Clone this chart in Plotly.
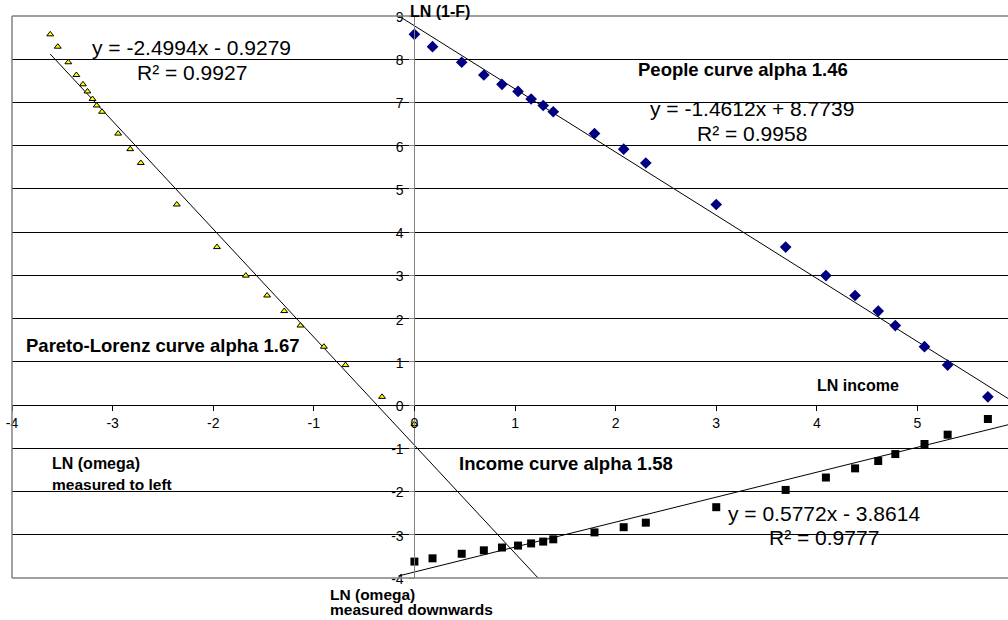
import plotly.graph_objects as go

# Shared data (natural logs)
ln_income = [0.00, 0.18, 0.47, 0.69, 0.87, 1.03, 1.16, 1.28, 1.38, 1.79, 2.08,
             2.30, 3.00, 3.69, 4.09, 4.38, 4.61, 4.78, 5.07, 5.30, 5.70]
ln_1mF = [8.575, 8.29, 7.93, 7.635, 7.42, 7.255, 7.08, 6.93, 6.785, 6.28, 5.92,
          5.60, 4.64, 3.655, 2.995, 2.535, 2.175, 1.84, 1.35, 0.925, 0.19]
ln_omega = [-3.62, -3.545, -3.44, -3.36, -3.295, -3.25, -3.20, -3.158, -3.105,
            -2.945, -2.825, -2.72, -2.362, -1.963, -1.676, -1.464, -1.294,
            -1.133, -0.90, -0.685, -0.322]
extra_pareto_x = [0.0]
extra_pareto_y = [-0.44]

# Trendlines (slope, intercept, x span drawn)
people_fit = (-1.4612, 8.7739)
people_span = [-0.2, 6.0]
pareto_fit = (-2.4994, -0.9279)
pareto_span = [-3.62, 1.4]
income_fit = (0.5772, -3.8614)
income_span = [-0.16, 6.0]

x_ticks = [-4, -3, -2, -1, 0, 1, 2, 3, 4, 5]
y_ticks = list(range(-4, 10))

FONT = "Liberation Sans, Arial, sans-serif"

fig = go.Figure()

def trend(fit, span):
    m, b = fit
    return span, [m * x + b for x in span]

for fit, span in [(pareto_fit, pareto_span), (people_fit, people_span), (income_fit, income_span)]:
    tx, ty = trend(fit, span)
    fig.add_trace(go.Scatter(x=tx, y=ty, mode="lines",
                             line=dict(color="black", width=1), hoverinfo="skip"))

fig.add_trace(go.Scatter(x=ln_income, y=ln_1mF, mode="markers",
                         marker=dict(symbol="diamond", size=9, color="#000080")))
fig.add_trace(go.Scatter(x=ln_income, y=ln_omega, mode="markers",
                         marker=dict(symbol="square", size=8, color="black")))
fig.add_trace(go.Scatter(x=ln_omega + extra_pareto_x, y=ln_1mF + extra_pareto_y, mode="markers",
                         marker=dict(symbol="triangle-up", size=6, color="#FFFF00",
                                     line=dict(color="black", width=1))))

xmin, xmax = -4, 5.9
ymin, ymax = -4, 9

fig.update_layout(
    width=1008, height=620,
    margin=dict(l=12, r=0, t=16, b=42),
    paper_bgcolor="white", plot_bgcolor="white",
    showlegend=False,
    font=dict(family=FONT, color="black", size=13),
    xaxis=dict(range=[xmin, xmax], tickvals=x_ticks, ticktext=[str(v) for v in x_ticks],
               showgrid=False, zeroline=False,
               anchor="free", position=(0 - ymin) / (ymax - ymin),
               showline=True, linecolor="black", linewidth=1,
               ticks="outside", ticklen=5, tickcolor="black",
               tickfont=dict(size=14, family=FONT)),
    yaxis=dict(range=[ymin, ymax], tickvals=y_ticks, ticktext=[str(v) for v in y_ticks],
               showgrid=True, gridcolor="black",
               gridwidth=1, zeroline=False,
               anchor="free", position=(0 - xmin) / (xmax - xmin),
               showline=True, linecolor="#808080", linewidth=1,
               ticks="outside", ticklen=5, tickcolor="#808080",
               ticklabelshift=1, ticklabelstandoff=3,
               tickfont=dict(size=14, family=FONT)),
)

# plot border (left, top, bottom)
for x0, y0, x1, y1 in [(0, 0, 0, 1), (0, 1, 1, 1), (0, 0, 1, 0)]:
    fig.add_shape(type="line", xref="paper", yref="paper", x0=x0, y0=y0, x1=x1, y1=y1,
                  line=dict(color="#808080", width=1.5), layer="above")

def ann(text, x, y, size, bold=False, xanchor="center", yref="y"):
    t = f"<b>{text}</b>" if bold else text
    fig.add_annotation(x=x, y=y, yref=yref, text=t, showarrow=False, xanchor=xanchor,
                       yanchor="middle", font=dict(size=size, family=FONT, color="black"))

ann("y = -2.4994x - 0.9279", -2.218, 8.266, 21)
ann("R² = 0.9927", -2.214, 7.688, 21)
ann("y = -1.4612x + 8.7739", 3.36, 6.851, 21)
ann("R² = 0.9958", 3.353, 6.273, 21)
ann("y = 0.5772x - 3.8614", 4.069, -2.497, 21)
ann("R² = 0.9777", 4.069, -3.052, 21)

ann("People curve alpha 1.46", 3.266, 7.769, 18.5, bold=True)
ann("Pareto-Lorenz curve alpha 1.67", -2.502, 1.378, 18.5, bold=True)
ann("Income curve alpha 1.58", 1.504, -1.341, 18.5, bold=True)

ann("LN income", 3.979, 0.453, 16, bold=True, xanchor="left")
ann("LN (omega)", -3.618, -1.341, 16, bold=True, xanchor="left")
ann("measured to left", -3.618, -1.843, 15.5, bold=True, xanchor="left")
# labels lying outside the plotting area (paper-referenced vertically)
ann("LN (1-F)", -0.064, 1.0077, 16, bold=True, xanchor="left", yref="paper")
ann("LN (omega)", -0.859, -0.0285, 15.5, bold=True, xanchor="left", yref="paper")
ann("measured downwards", -0.859, -0.0565, 15.5, bold=True, xanchor="left", yref="paper")

fig.write_html("out.html", config={"displayModeBar": False},
               post_script="document.body.style.margin='0';document.body.style.padding='0';")
